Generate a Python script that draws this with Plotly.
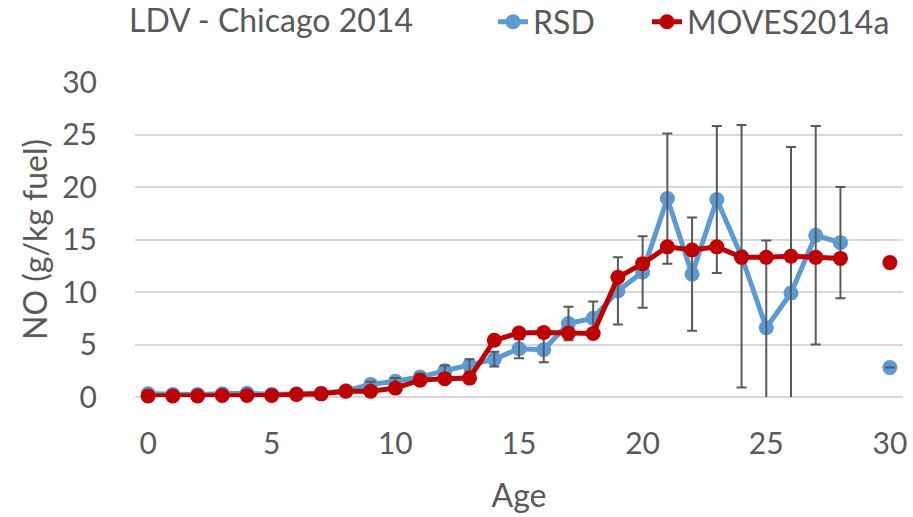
import plotly.graph_objects as go

ages = list(range(0, 31))
rsd = [0.3, 0.25, 0.25, 0.3, 0.35, 0.25, 0.3, 0.35, 0.6, 1.2, 1.5, 1.9, 2.5, 3.0,
       3.6, 4.6, 4.5, 7.0, 7.5, 10.1, 11.9, 18.9, 11.7, 18.8, 13.4, 6.6, 9.9,
       15.4, 14.7, None, 2.8]
rsd_err = [0.1, 0.1, 0.1, 0.1, 0.1, 0.1, 0.1, 0.15, 0.2, 0.25, 0.3, 0.35, 0.5, 0.6,
           0.7, 0.9, 1.2, 1.6, 1.6, 3.2, 3.4, 6.2, 5.4, 7.0, 12.5, 8.3, 13.9,
           10.4, 5.3, None, 0]
moves = [0.1, 0.1, 0.1, 0.15, 0.15, 0.15, 0.25, 0.3, 0.55, 0.55, 0.85, 1.6, 1.75, 1.8,
         5.4, 6.1, 6.15, 6.1, 6.05, 11.4, 12.7, 14.3, 14.0, 14.3, 13.3, 13.3, 13.4,
         13.3, 13.2, None, 12.8]
x_ticks = [0, 5, 10, 15, 20, 25, 30]
y_ticks = [0, 5, 10, 15, 20, 25, 30]

BLUE = "#5B9BD5"
RED = "#C00000"
TXT = "#595959"
FONT = "Lato"

W, H = 913, 517
ML, MR, MT, MB = 135, 10, 82, 120
PW, PH = W - ML - MR, H - MT - MB

fig = go.Figure()
fig.add_trace(go.Scatter(
    x=ages, y=rsd, mode="lines+markers", name="RSD", legend="legend",
    line=dict(color=BLUE, width=5), marker=dict(color=BLUE, size=15),
    cliponaxis=False, connectgaps=False,
))
fig.add_trace(go.Scatter(
    x=ages, y=rsd, mode="markers", showlegend=False, hoverinfo="skip",
    marker=dict(size=1, color="rgba(0,0,0,0)"),
    error_y=dict(type="data", array=rsd_err, color="#595959", thickness=2, width=5),
    cliponaxis=True,
))
fig.add_trace(go.Scatter(
    x=ages, y=moves, mode="lines+markers", name="MOVES2014a", legend="legend2",
    line=dict(color=RED, width=5), marker=dict(color=RED, size=15),
    cliponaxis=False, connectgaps=False,
))

leg_common = dict(orientation="h", xanchor="left", y=1 + (MT - 22) / PH,
                  yanchor="middle", font=dict(size=32, color=TXT),
                  bgcolor="rgba(0,0,0,0)")
fig.update_layout(
    width=W, height=H,
    margin=dict(l=ML, r=MR, t=MT, b=MB, autoexpand=False),
    paper_bgcolor="white", plot_bgcolor="white",
    font=dict(family=FONT, color=TXT, size=28),
    title=dict(text="LDV - Chicago 2014", x=129 / W, xanchor="left",
               y=1 - 21 / H, yanchor="middle", font=dict(size=32, color=TXT)),
    legend=dict(x=(493 - ML) / PW, **leg_common),
    legend2=dict(x=(647 - ML) / PW, **leg_common),
    showlegend=True,
)
fig.update_xaxes(
    range=[-0.53, 30.53], tickvals=x_ticks, showgrid=False, zeroline=False,
    ticks="outside", ticklen=20, tickcolor="rgba(0,0,0,0)",
    tickfont=dict(size=30, color=TXT), automargin=False,
    title=dict(text="Age", font=dict(size=32, color=TXT), standoff=25),
    showline=False,
)
fig.update_yaxes(
    range=[0, 30], tickvals=y_ticks, showgrid=True, gridcolor="#D9D9D9", gridwidth=1.5,
    zeroline=True, zerolinecolor="#D9D9D9", zerolinewidth=1.5,
    ticks="outside", ticklen=31, tickcolor="rgba(0,0,0,0)",
    tickfont=dict(size=30, color=TXT), automargin=False,
    title=dict(text="NO (g/kg fuel)", font=dict(size=32, color=TXT), standoff=4),
)
fig.write_html("out.html", config={"displayModeBar": False},
               post_script="document.body.style.margin='0';")
